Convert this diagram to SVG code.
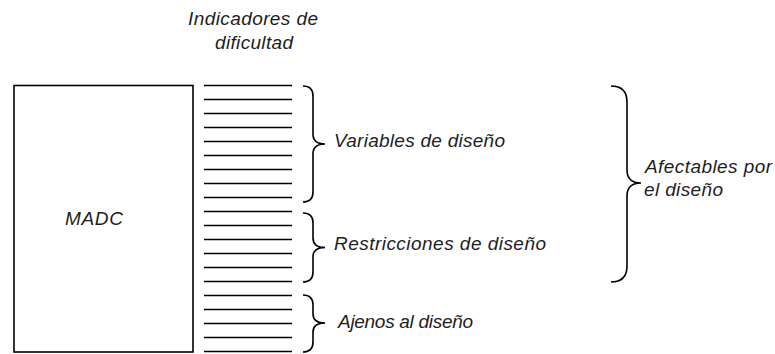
<svg xmlns="http://www.w3.org/2000/svg" width="775" height="354" viewBox="0 0 775 354">
<style>
.t{font-family:"Liberation Sans",Arial,sans-serif;font-style:italic;font-size:19px;fill:#1e1e1e}
.ln{stroke:#000;stroke-width:1.6}
.br{fill:none;stroke:#000;stroke-width:1.6}
</style>
<rect width="775" height="354" fill="#fff"/>
<g id="madc">
<rect x="14" y="85.5" width="179" height="266.5" fill="none" stroke="#000" stroke-width="1.6"/>
<text class="t" x="65" y="225" textLength="58" lengthAdjust="spacing">MADC</text>
</g>
<g id="indicadores">
<text class="t" x="188" y="25" textLength="130" lengthAdjust="spacing">Indicadores de</text>
<text class="t" x="215" y="49" textLength="78" lengthAdjust="spacing">dificultad</text>
<g class="ln">
<line x1="204" y1="85.5" x2="292" y2="85.5"/>
<line x1="204" y1="99.5" x2="292" y2="99.5"/>
<line x1="204" y1="113.5" x2="292" y2="113.5"/>
<line x1="204" y1="127.5" x2="292" y2="127.5"/>
<line x1="204" y1="141.5" x2="292" y2="141.5"/>
<line x1="204" y1="155.5" x2="292" y2="155.5"/>
<line x1="204" y1="169.5" x2="292" y2="169.5"/>
<line x1="204" y1="183.5" x2="292" y2="183.5"/>
<line x1="204" y1="197.5" x2="292" y2="197.5"/>
<line x1="204" y1="211.5" x2="292" y2="211.5"/>
<line x1="204" y1="225.5" x2="292" y2="225.5"/>
<line x1="204" y1="239.5" x2="292" y2="239.5"/>
<line x1="204" y1="253.5" x2="292" y2="253.5"/>
<line x1="204" y1="267.5" x2="292" y2="267.5"/>
<line x1="204" y1="281.5" x2="292" y2="281.5"/>
<line x1="204" y1="295.5" x2="292" y2="295.5"/>
<line x1="204" y1="309.5" x2="292" y2="309.5"/>
<line x1="204" y1="323.5" x2="292" y2="323.5"/>
<line x1="204" y1="337.5" x2="292" y2="337.5"/>
<line x1="204" y1="351.5" x2="292" y2="351.5"/>
</g>
</g>
<g id="variables">
<path class="br" d="M303,86 Q313,86 313,96 L313,134 Q313,144 325,144 Q313,144 313,154 L313,192 Q313,202 303,202"/>
<text class="t" x="334" y="147" textLength="171" lengthAdjust="spacing">Variables de diseño</text>
</g>
<g id="restricciones">
<path class="br" d="M303,213 Q313,213 313,223 L313,238 Q313,247.5 325,247.5 Q313,247.5 313,257 L313,272 Q313,282 303,282"/>
<text class="t" x="334" y="250" textLength="212" lengthAdjust="spacing">Restricciones de diseño</text>
</g>
<g id="ajenos">
<path class="br" d="M303,295 Q313,295 313,305 L313,314 Q313,323 325,323 Q313,323 313,332 L313,342 Q313,352 303,352"/>
<text class="t" x="338" y="328" textLength="135" lengthAdjust="spacing">Ajenos al diseño</text>
</g>
<g id="afectables">
<path class="br" d="M611,86 Q627,86 627,102 L627,170 Q627,183 641,183 Q627,183 627,196 L627,266 Q627,282 611,282"/>
<text class="t" x="645" y="173" textLength="127" lengthAdjust="spacing">Afectables por</text>
<text class="t" x="644" y="196" textLength="79" lengthAdjust="spacing">el diseño</text>
</g>
</svg>
